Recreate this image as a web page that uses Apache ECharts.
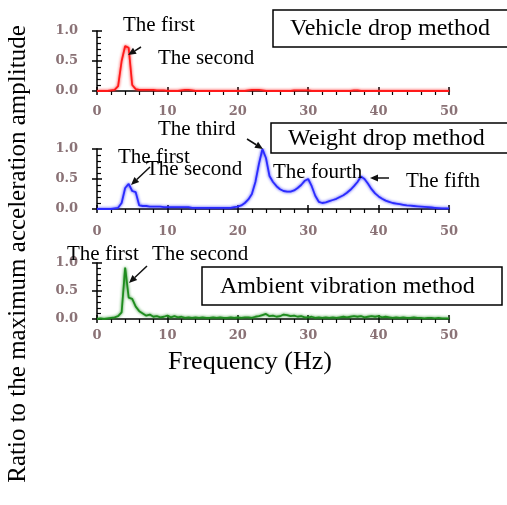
<!DOCTYPE html>
<html>
<head>
<meta charset="utf-8">
<script src="https://cdn.jsdelivr.net/npm/echarts@6/dist/echarts.min.js"></script>
<style>
  html, body { margin: 0; padding: 0; background: #fff; }
  #main { width: 507px; height: 505px; }
</style>
</head>
<body>
<div id="main"></div>
<script>
// frequency grid, 0 - 50 Hz every 0.5 Hz
var freqStep = 0.5;
var xTicks = [0, 10, 20, 30, 40, 50];
var yTicks = [0.0, 0.5, 1.0];

// Vehicle drop method (red)
var vehicleDrop = [
  0, 0, 0, 0, 0.01, 0.02, 0.08, 0.5, 0.75, 0.72,
  0.1, 0.03, 0.02, 0.02, 0.02, 0.02, 0.02, 0.01, 0.01, 0.01,
  0, 0, 0, 0, 0.01, 0.02, 0.02, 0.01, 0, 0,
  0, 0, 0, 0, 0, 0, 0, 0, 0, 0,
  0, 0, 0, 0.01, 0.02, 0.02, 0.02, 0.01, 0, 0,
  0, 0, 0, 0, 0, 0, 0.01, 0.01, 0.01, 0.01,
  0.01, 0, 0, 0, 0, 0, 0, 0, 0, 0,
  0, 0, 0, 0.01, 0.01, 0, 0, 0, 0, 0,
  0, 0, 0, 0, 0, 0, 0, 0, 0, 0,
  0, 0, 0, 0, 0, 0, 0, 0, 0, 0,
  0
];

// Weight drop method (blue)
var weightDrop = [
  0, 0, 0, 0, 0, 0.01, 0.02, 0.1, 0.35, 0.42,
  0.3, 0.28, 0.06, 0.05, 0.05, 0.04, 0.04, 0.04, 0.04, 0.03,
  0.03, 0.03, 0.03, 0.03, 0.03, 0.03, 0.03, 0.02, 0.02, 0.02,
  0.02, 0.02, 0.02, 0.02, 0.02, 0.02, 0.02, 0.02, 0.02, 0.03,
  0.04, 0.06, 0.1, 0.16, 0.25, 0.45, 0.75, 1.0, 0.85, 0.55,
  0.45, 0.38, 0.33, 0.3, 0.29, 0.29, 0.31, 0.35, 0.4, 0.47,
  0.5, 0.38, 0.22, 0.12, 0.1, 0.11, 0.13, 0.15, 0.17, 0.2,
  0.23, 0.27, 0.32, 0.38, 0.45, 0.54, 0.5, 0.42, 0.33, 0.26,
  0.21, 0.17, 0.14, 0.12, 0.1, 0.09, 0.08, 0.07, 0.06, 0.055,
  0.05, 0.045, 0.04, 0.035, 0.03, 0.025, 0.02, 0.015, 0.01, 0.01,
  0.01
];

// Ambient vibration method (green)
var ambient = [
  0, 0.01, 0, 0.01, 0.02, 0.03, 0.05, 0.12, 0.92, 0.38,
  0.36, 0.22, 0.14, 0.1, 0.06, 0.08, 0.04, 0.05, 0.03, 0.04,
  0.06, 0.03, 0.05, 0.03, 0.04, 0.02, 0.03, 0.02, 0.03, 0.02,
  0.03, 0.02, 0.02, 0.03, 0.02, 0.03, 0.02, 0.02, 0.03, 0.02,
  0.03, 0.02, 0.03, 0.03, 0.02, 0.04, 0.05, 0.07, 0.09, 0.05,
  0.06, 0.04, 0.05, 0.08, 0.07, 0.05, 0.06, 0.04, 0.05, 0.03,
  0.03, 0.04, 0.02, 0.03, 0.02, 0.03, 0.02, 0.03, 0.02, 0.03,
  0.04, 0.03, 0.04, 0.05, 0.04, 0.05, 0.03, 0.04, 0.05, 0.04,
  0.05, 0.03, 0.04, 0.03, 0.02, 0.03, 0.02, 0.03, 0.02, 0.02,
  0.03, 0.02, 0.02, 0.01, 0.02, 0.02, 0.01, 0.02, 0.01, 0.01,
  0.01
];

var panels = [
  { data: vehicleDrop, color: "#ff1a1a", top: 31, height: 60, labelMargin: 14 },
  { data: weightDrop, color: "#2b2bff", top: 149, height: 60, labelMargin: 16 },
  { data: ambient, color: "#1e8c1e", top: 263, height: 56, labelMargin: 10 },
];

var serif = '"Liberation Serif", "Times New Roman", serif';
var tickColor = "#8a7276";

function toPairs(vals) {
  var out = [];
  for (let i = 0; i < vals.length; i++) {
    out.push([i * freqStep, vals[i]]);
  }
  return out;
}

var grids = [], xAxes = [], yAxes = [], series = [];
panels.forEach(function (p, gi) {
  grids.push({ left: 97, right: 58, top: p.top, height: p.height });
  // main x axis: labels, outer major ticks, minor ticks below
  xAxes.push({
    gridIndex: gi, type: "value", position: "bottom",
    min: xTicks[0], max: xTicks[xTicks.length - 1], interval: 10,
    axisLine: { onZero: false, lineStyle: { color: "#000", width: 1.5 } },
    axisTick: { length: 4, lineStyle: { color: "#000", width: 1.5 } },
    minorTick: { show: true, splitNumber: 5, length: 4, lineStyle: { color: "#000", width: 1.2 } },
    splitLine: { show: false },
    axisLabel: { color: tickColor, fontFamily: "DejaVu Serif", fontWeight: "bold", fontSize: 13, margin: p.labelMargin },
  });
  // helper x axis: inner half of major ticks
  xAxes.push({
    gridIndex: gi, type: "value", position: "bottom",
    min: 0, max: 50, interval: 10,
    axisLine: { show: false, onZero: false },
    axisTick: { inside: true, length: 4, lineStyle: { color: "#000", width: 1.5 } },
    axisLabel: { show: false }, splitLine: { show: false },
  });
  yAxes.push({
    gridIndex: gi, type: "value", position: "left",
    min: yTicks[0], max: yTicks[yTicks.length - 1], interval: 0.5,
    axisLine: { onZero: false, lineStyle: { color: "#000", width: 1.5 } },
    axisTick: { inside: true, length: 5, lineStyle: { color: "#000", width: 1.5 } },
    minorTick: { show: true, splitNumber: 5, length: 4, lineStyle: { color: "#000", width: 1.2 } },
    splitLine: { show: false },
    axisLabel: {
      color: tickColor, fontFamily: "DejaVu Serif", fontWeight: "bold", fontSize: 13, margin: 19,
      formatter: function (v) { return v.toFixed(1); },
    },
  });
  yAxes.push({
    gridIndex: gi, type: "value", position: "left",
    min: 0, max: 1, interval: 0.5,
    axisLine: { show: false, onZero: false },
    axisTick: { length: 5, lineStyle: { color: "#000", width: 1.5 } },
    axisLabel: { show: false }, splitLine: { show: false },
  });
  series.push({
    type: "line",
    xAxisIndex: gi * 2,
    yAxisIndex: gi * 2,
    data: toPairs(p.data),
    showSymbol: false,
    smooth: false,
    lineStyle: { color: p.color, width: 1.8, shadowColor: p.color, shadowBlur: 3 },
  });
});

function txt(s, x, y, size) {
  return {
    type: "text", x: x, y: y, z: 10,
    style: { text: s, font: size + "px " + serif, fill: "#000", textVerticalAlign: "middle" },
  };
}

function box(x, y, w, h) {
  return {
    type: "rect", z: 9,
    shape: { x: x, y: y, width: w, height: h },
    style: { fill: "#fff", stroke: "#000", lineWidth: 1.5 },
  };
}

function arrow(x1, y1, x2, y2) {
  var ang = Math.atan2(y2 - y1, x2 - x1);
  var L = 8, W = 3.5;
  var bx = x2 - L * Math.cos(ang), by = y2 - L * Math.sin(ang);
  var nx = -Math.sin(ang), ny = Math.cos(ang);
  return [
    { type: "line", z: 10, shape: { x1: x1, y1: y1, x2: bx, y2: by }, style: { stroke: "#111", lineWidth: 1.5 } },
    {
      type: "polygon", z: 10,
      shape: { points: [[x2, y2], [bx + nx * W, by + ny * W], [bx - nx * W, by - ny * W]] },
      style: { fill: "#111" },
    },
  ];
}

var graphics = [
  box(273, 10, 250, 37), txt("Vehicle drop method", 290, 29, 24),
  box(271, 123, 250, 30), txt("Weight drop method", 288, 139, 24),
  box(202, 267, 300, 38), txt("Ambient vibration method", 220, 287, 24),

  txt("The first", 123, 25, 21),
  txt("The second", 158, 58, 21),

  txt("The third", 158, 129, 21),
  txt("The first", 118, 157, 21),
  txt("The second", 146, 169, 21),
  txt("The fourth", 273, 172, 21),
  txt("The fifth", 406, 181, 21),

  txt("The first", 67, 254, 21),
  txt("The second", 152, 254, 21),

  txt("Frequency (Hz)", 168, 362, 26),
  {
    type: "text", x: 18, y: 254, rotation: Math.PI / 2, z: 10,
    style: {
      text: "Ratio to the maximum acceleration amplitude", font: "25px " + serif,
      fill: "#000", textAlign: "center", textVerticalAlign: "middle",
    },
  },
]
  .concat(arrow(141, 47, 128, 55))
  .concat(arrow(247, 139, 263, 149))
  .concat(arrow(150, 167, 131, 185))
  .concat(arrow(389, 178, 370, 178))
  .concat(arrow(147, 266, 129, 283));

var chart = echarts.init(document.getElementById("main"));
chart.setOption({
  animation: false,
  backgroundColor: "#fff",
  grid: grids,
  xAxis: xAxes,
  yAxis: yAxes,
  series: series,
  graphic: graphics,
});
</script>
</body>
</html>
